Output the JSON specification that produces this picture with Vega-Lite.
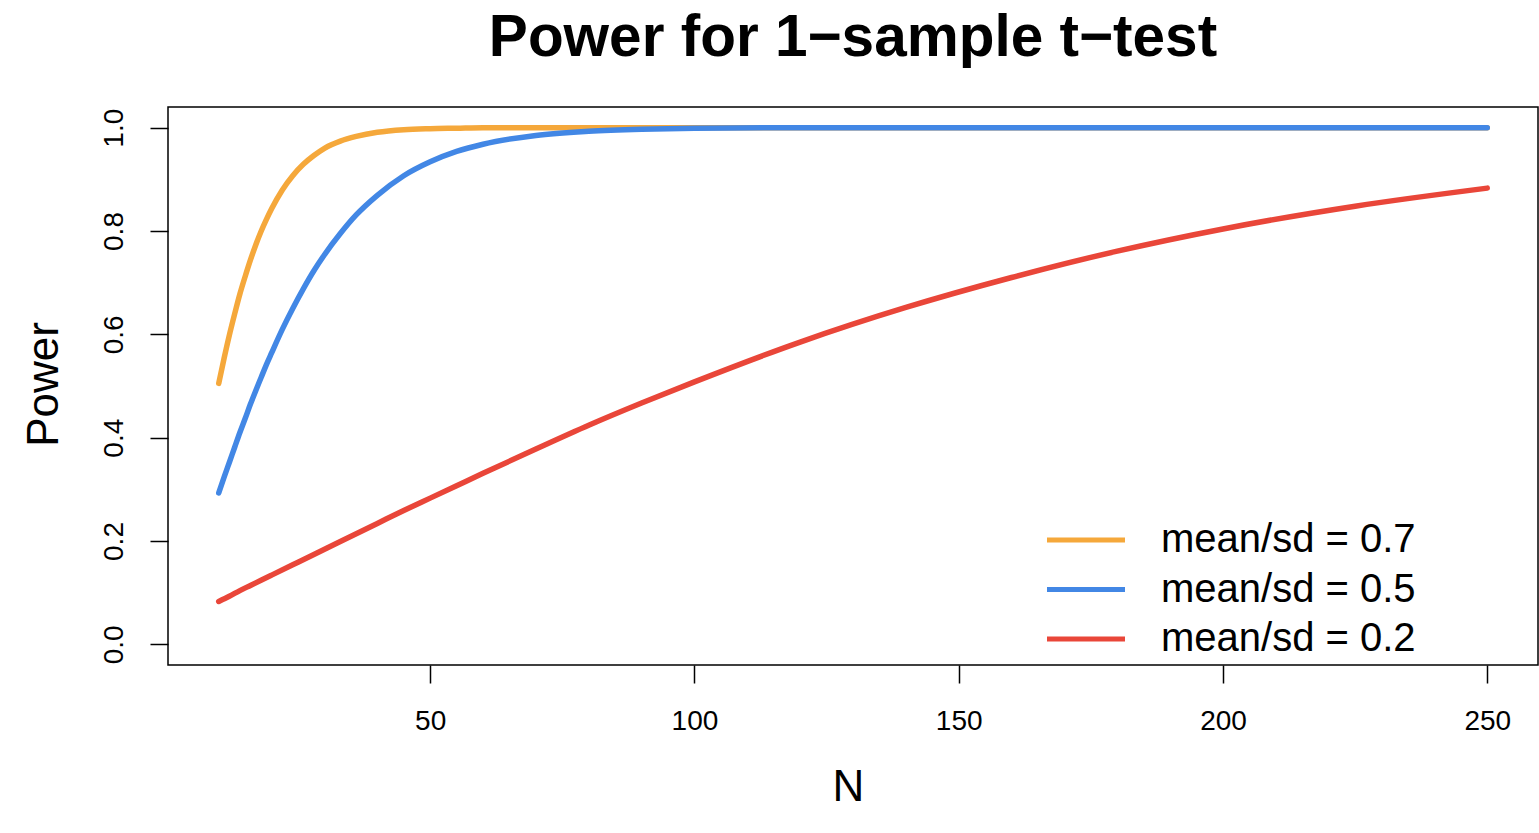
{
  "$schema": "https://vega.github.io/schema/vega-lite/v6.json",
  "width": 1370,
  "height": 558,
  "autosize": {"type": "none"},
  "padding": {"left": 168, "top": 107, "right": 1, "bottom": 168},
  "background": "white",
  "title": {
    "text": "Power for 1−sample t−test",
    "font": "Liberation Sans",
    "fontSize": 58.5,
    "fontWeight": "bold",
    "color": "black",
    "anchor": "middle",
    "baseline": "alphabetic",
    "offset": -7
  },
  "data": {
    "values": [
      {"N": 10, "power": 0.505, "series": "mean/sd = 0.7"},
      {"N": 11, "power": 0.553, "series": "mean/sd = 0.7"},
      {"N": 12, "power": 0.598, "series": "mean/sd = 0.7"},
      {"N": 13, "power": 0.639, "series": "mean/sd = 0.7"},
      {"N": 14, "power": 0.678, "series": "mean/sd = 0.7"},
      {"N": 15, "power": 0.712, "series": "mean/sd = 0.7"},
      {"N": 16, "power": 0.744, "series": "mean/sd = 0.7"},
      {"N": 17, "power": 0.773, "series": "mean/sd = 0.7"},
      {"N": 18, "power": 0.799, "series": "mean/sd = 0.7"},
      {"N": 19, "power": 0.822, "series": "mean/sd = 0.7"},
      {"N": 20, "power": 0.843, "series": "mean/sd = 0.7"},
      {"N": 22, "power": 0.879, "series": "mean/sd = 0.7"},
      {"N": 24, "power": 0.907, "series": "mean/sd = 0.7"},
      {"N": 26, "power": 0.929, "series": "mean/sd = 0.7"},
      {"N": 28, "power": 0.946, "series": "mean/sd = 0.7"},
      {"N": 30, "power": 0.960, "series": "mean/sd = 0.7"},
      {"N": 33, "power": 0.974, "series": "mean/sd = 0.7"},
      {"N": 36, "power": 0.983, "series": "mean/sd = 0.7"},
      {"N": 40, "power": 0.991, "series": "mean/sd = 0.7"},
      {"N": 45, "power": 0.996, "series": "mean/sd = 0.7"},
      {"N": 50, "power": 0.998, "series": "mean/sd = 0.7"},
      {"N": 55, "power": 0.999, "series": "mean/sd = 0.7"},
      {"N": 60, "power": 1.0, "series": "mean/sd = 0.7"},
      {"N": 70, "power": 1.0, "series": "mean/sd = 0.7"},
      {"N": 100, "power": 1.0, "series": "mean/sd = 0.7"},
      {"N": 150, "power": 1.0, "series": "mean/sd = 0.7"},
      {"N": 200, "power": 1.0, "series": "mean/sd = 0.7"},
      {"N": 250, "power": 1.0, "series": "mean/sd = 0.7"},
      {"N": 10, "power": 0.293, "series": "mean/sd = 0.5"},
      {"N": 11, "power": 0.323, "series": "mean/sd = 0.5"},
      {"N": 12, "power": 0.352, "series": "mean/sd = 0.5"},
      {"N": 13, "power": 0.381, "series": "mean/sd = 0.5"},
      {"N": 14, "power": 0.410, "series": "mean/sd = 0.5"},
      {"N": 15, "power": 0.437, "series": "mean/sd = 0.5"},
      {"N": 16, "power": 0.465, "series": "mean/sd = 0.5"},
      {"N": 17, "power": 0.491, "series": "mean/sd = 0.5"},
      {"N": 18, "power": 0.516, "series": "mean/sd = 0.5"},
      {"N": 19, "power": 0.541, "series": "mean/sd = 0.5"},
      {"N": 20, "power": 0.564, "series": "mean/sd = 0.5"},
      {"N": 22, "power": 0.609, "series": "mean/sd = 0.5"},
      {"N": 24, "power": 0.650, "series": "mean/sd = 0.5"},
      {"N": 26, "power": 0.688, "series": "mean/sd = 0.5"},
      {"N": 28, "power": 0.723, "series": "mean/sd = 0.5"},
      {"N": 30, "power": 0.754, "series": "mean/sd = 0.5"},
      {"N": 33, "power": 0.795, "series": "mean/sd = 0.5"},
      {"N": 36, "power": 0.831, "series": "mean/sd = 0.5"},
      {"N": 40, "power": 0.869, "series": "mean/sd = 0.5"},
      {"N": 45, "power": 0.907, "series": "mean/sd = 0.5"},
      {"N": 50, "power": 0.934, "series": "mean/sd = 0.5"},
      {"N": 55, "power": 0.954, "series": "mean/sd = 0.5"},
      {"N": 60, "power": 0.968, "series": "mean/sd = 0.5"},
      {"N": 70, "power": 0.985, "series": "mean/sd = 0.5"},
      {"N": 80, "power": 0.993, "series": "mean/sd = 0.5"},
      {"N": 90, "power": 0.997, "series": "mean/sd = 0.5"},
      {"N": 100, "power": 0.999, "series": "mean/sd = 0.5"},
      {"N": 120, "power": 1.0, "series": "mean/sd = 0.5"},
      {"N": 140, "power": 1.0, "series": "mean/sd = 0.5"},
      {"N": 200, "power": 1.0, "series": "mean/sd = 0.5"},
      {"N": 250, "power": 1.0, "series": "mean/sd = 0.5"},
      {"N": 10, "power": 0.083, "series": "mean/sd = 0.2"},
      {"N": 12, "power": 0.093, "series": "mean/sd = 0.2"},
      {"N": 14, "power": 0.104, "series": "mean/sd = 0.2"},
      {"N": 16, "power": 0.114, "series": "mean/sd = 0.2"},
      {"N": 18, "power": 0.124, "series": "mean/sd = 0.2"},
      {"N": 20, "power": 0.134, "series": "mean/sd = 0.2"},
      {"N": 24, "power": 0.154, "series": "mean/sd = 0.2"},
      {"N": 28, "power": 0.174, "series": "mean/sd = 0.2"},
      {"N": 33, "power": 0.199, "series": "mean/sd = 0.2"},
      {"N": 40, "power": 0.234, "series": "mean/sd = 0.2"},
      {"N": 45, "power": 0.259, "series": "mean/sd = 0.2"},
      {"N": 50, "power": 0.283, "series": "mean/sd = 0.2"},
      {"N": 55, "power": 0.307, "series": "mean/sd = 0.2"},
      {"N": 60, "power": 0.331, "series": "mean/sd = 0.2"},
      {"N": 70, "power": 0.378, "series": "mean/sd = 0.2"},
      {"N": 80, "power": 0.424, "series": "mean/sd = 0.2"},
      {"N": 90, "power": 0.467, "series": "mean/sd = 0.2"},
      {"N": 100, "power": 0.508, "series": "mean/sd = 0.2"},
      {"N": 120, "power": 0.585, "series": "mean/sd = 0.2"},
      {"N": 140, "power": 0.652, "series": "mean/sd = 0.2"},
      {"N": 160, "power": 0.710, "series": "mean/sd = 0.2"},
      {"N": 180, "power": 0.761, "series": "mean/sd = 0.2"},
      {"N": 200, "power": 0.804, "series": "mean/sd = 0.2"},
      {"N": 225, "power": 0.848, "series": "mean/sd = 0.2"},
      {"N": 250, "power": 0.883, "series": "mean/sd = 0.2"}
    ]
  },
  "mark": {"type": "line", "strokeWidth": 5.5, "strokeCap": "round", "strokeJoin": "round", "interpolate": "monotone", "clip": true},
  "encoding": {
    "x": {
      "field": "N",
      "type": "quantitative",
      "scale": {"domain": [0.4, 259.6], "nice": false, "zero": false},
      "axis": {
        "values": [50, 100, 150, 200, 250],
        "title": "N",
        "labelBaseline": "alphabetic",
        "labelPadding": 46,
        "titleX": 680,
        "titleY": 135,
        "titleBaseline": "alphabetic",
        "titleAlign": "center"
      }
    },
    "y": {
      "field": "power",
      "type": "quantitative",
      "scale": {"domain": [-0.04, 1.04], "nice": false, "zero": false},
      "axis": {
        "values": [0, 0.2, 0.4, 0.6, 0.8, 1.0],
        "format": ".1f",
        "title": "Power",
        "labelAngle": -90,
        "labelAlign": "center",
        "labelBaseline": "alphabetic",
        "labelPadding": 28,
        "titleAngle": 270,
        "titleX": -111,
        "titleY": 277,
        "titleBaseline": "alphabetic",
        "titleAlign": "center"
      }
    },
    "color": {
      "field": "series",
      "type": "nominal",
      "sort": null,
      "scale": {
        "domain": ["mean/sd = 0.7", "mean/sd = 0.5", "mean/sd = 0.2"],
        "range": ["#F5A83B", "#4287E5", "#E94639"]
      },
      "legend": {
        "orient": "none",
        "legendX": 898,
        "legendY": 413,
        "title": null,
        "symbolType": "M-3,0H3",
        "symbolSize": 676,
        "symbolStrokeWidth": 5,
        "labelFont": "Liberation Sans",
        "labelFontSize": 40,
        "labelColor": "black",
        "labelOffset": 55,
        "labelLimit": 500,
        "padding": 0,
        "rowPadding": 9.5
      }
    }
  },
  "config": {
    "view": {"stroke": "black", "strokeWidth": 1.5},
    "axis": {
      "domain": false,
      "grid": false,
      "ticks": true,
      "tickColor": "black",
      "tickWidth": 1.5,
      "tickSize": 18,
      "labelFont": "Liberation Sans",
      "labelFontSize": 28,
      "labelColor": "black",
      "labelOverlap": false,
      "labelFlush": false,
      "titleFont": "Liberation Sans",
      "titleFontSize": 44,
      "titleFontWeight": "normal",
      "titleColor": "black"
    }
  }
}
